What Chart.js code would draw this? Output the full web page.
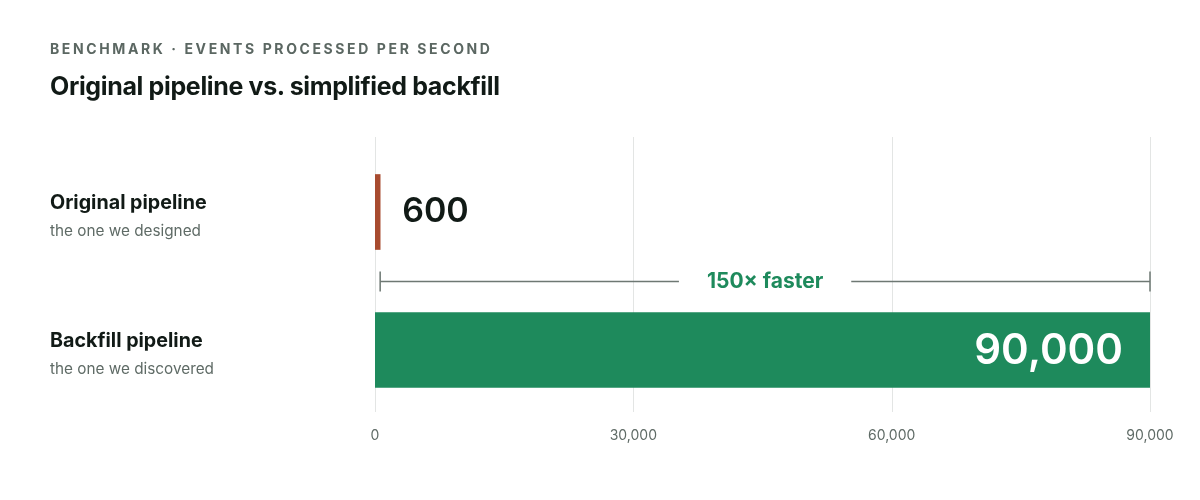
<!DOCTYPE html>
<html>
<head>
<meta charset="utf-8">
<script src="https://cdn.jsdelivr.net/npm/chart.js@4"></script>
<style>
html,body{margin:0;padding:0;background:#fff;}
#wrap{position:relative;width:1200px;height:500px;}
#kicker{position:absolute;left:50px;top:39px;font:700 14px Inter,sans-serif;letter-spacing:2.6px;color:#5b6762;white-space:nowrap;line-height:20px;}
#title{position:absolute;left:50px;top:71px;font:700 25px Inter,sans-serif;color:#111a16;white-space:nowrap;line-height:30px;letter-spacing:-0.35px;}
canvas{position:absolute;left:0;top:0;}
</style>
</head>
<body>
<div id="wrap">
<canvas id="c" width="1200" height="500"></canvas>
<div id="kicker">BENCHMARK · EVENTS PROCESSED PER SECOND</div>
<div id="title">Original pipeline vs. simplified backfill</div>
</div>
<script>
const categories = ["Original pipeline", "Backfill pipeline"];
const subtitles = ["the one we designed", "the one we discovered"];
const values = [600, 90000];
const barColors = ["#a84b2f", "#1e8a5c"];
const tickValues = [0, 30000, 60000, 90000];
const speedupLabel = "150× faster";

const fmt = v => v.toLocaleString("en-US");

const overlay = {
  id: "overlay",
  beforeDatasetsDraw(chart) {
    const {ctx, chartArea, scales} = chart;
    ctx.save();
    ctx.strokeStyle = "#e3e5e4";
    ctx.lineWidth = 1;
    tickValues.forEach(v => {
      const x = Math.round(scales.x.getPixelForValue(v)) + 0.5;
      ctx.beginPath();
      ctx.moveTo(x, chartArea.top - 6);
      ctx.lineTo(x, chartArea.bottom - 7);
      ctx.stroke();
    });
    ctx.restore();
  },
  afterDatasetsDraw(chart) {
    const {ctx, scales} = chart;
    const meta = chart.getDatasetMeta(0);
    ctx.save();
    categories.forEach((c, i) => {
      const y = scales.y.getPixelForValue(i);
      ctx.textAlign = "left";
      ctx.textBaseline = "middle";
      ctx.fillStyle = "#111a16";
      ctx.font = "700 19.7px Inter, sans-serif";
      ctx.fillText(c, 50, y - 9);
      ctx.fillStyle = "#5f6b66";
      ctx.font = "400 15.3px Inter, sans-serif";
      ctx.fillText(subtitles[i], 50, y + 19);
    });
    const b0 = meta.data[0], b1 = meta.data[1];
    ctx.textBaseline = "middle";
    ctx.fillStyle = "#111a16";
    ctx.font = "600 34px Inter, sans-serif";
    ctx.textAlign = "left";
    ctx.fillText(fmt(values[0]), b0.x + 22, b0.y);
    ctx.fillStyle = "#ffffff";
    ctx.font = "600 42px Inter, sans-serif";
    ctx.textAlign = "right";
    ctx.fillText(fmt(values[1]), b1.x - 27, b1.y + 1);
    const x0 = scales.x.getPixelForValue(values[0]);
    const x1 = scales.x.getPixelForValue(values[1]);
    const yb = Math.round((b0.y + b1.y) / 2) + 0.5;
    const mid = (x0 + x1) / 2;
    ctx.font = "700 21px Inter, sans-serif";
    const tw = ctx.measureText(speedupLabel).width;
    const gap = tw / 2 + 28;
    ctx.strokeStyle = "#6e7873";
    ctx.lineWidth = 1.5;
    ctx.beginPath();
    ctx.moveTo(x0, yb); ctx.lineTo(mid - gap, yb);
    ctx.moveTo(mid + gap, yb); ctx.lineTo(x1, yb);
    ctx.moveTo(x0, yb - 10); ctx.lineTo(x0, yb + 10);
    ctx.moveTo(x1, yb - 10); ctx.lineTo(x1, yb + 10);
    ctx.stroke();
    ctx.fillStyle = "#1e8a5c";
    ctx.textAlign = "center";
    ctx.textBaseline = "middle";
    ctx.fillText(speedupLabel, mid, yb);
    ctx.restore();
  }
};

new Chart(document.getElementById("c"), {
  type: "bar",
  data: {
    labels: categories,
    datasets: [{
      data: values,
      backgroundColor: barColors,
      borderWidth: 0,
      barThickness: 75
    }]
  },
  options: {
    indexAxis: "y",
    responsive: false,
    animation: false,
    layout: { padding: { left: 375, right: 50, top: 143, bottom: 51 } },
    plugins: { legend: { display: false }, tooltip: { enabled: false } },
    scales: {
      y: { display: false },
      x: {
        min: 0, max: 90000,
        afterBuildTicks(scale) { scale.ticks = tickValues.map(v => ({value: v})); },
        afterFit(scale) { scale.height = 30; },
        grid: { display: false, drawTicks: false },
        border: { display: false },
        ticks: {
          padding: 8,
          color: "#5f6b66",
          font: { family: "Inter", size: 14 },
          callback: v => fmt(v)
        }
      }
    }
  },
  plugins: [overlay]
});
</script>
</body>
</html>
